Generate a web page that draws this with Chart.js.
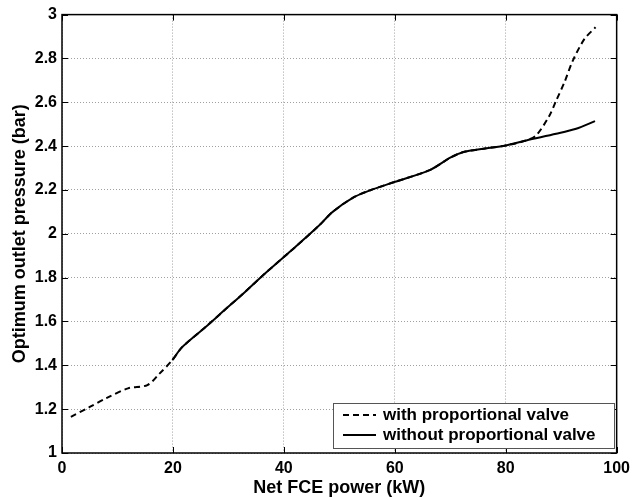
<!DOCTYPE html>
<html>
<head>
<meta charset="utf-8">
<script src="https://cdn.jsdelivr.net/npm/chart.js@4/dist/chart.umd.min.js"></script>
<style>
  html, body { margin: 0; padding: 0; background: #fff; }
  #wrap { width: 636px; height: 500px; }
</style>
</head>
<body>
<div id="wrap"><canvas id="c" width="636" height="500"></canvas></div>
<script>
// values
const xWith = [1.6, 5, 8, 11.9, 15.4, 17.5, 19.9, 21.7, 25.9, 29, 33.0, 36.6, 41.4, 46.2, 48.8, 52.7, 55.7, 59.9, 66.4, 70.0, 72.4, 76.0, 80.0, 83.7, 85.5, 87.9, 89.1, 90.6, 92.1, 94.2, 96.2];
const yWith = [1.165, 1.21, 1.25, 1.295, 1.31, 1.36, 1.424, 1.484, 1.575, 1.645, 1.735, 1.819, 1.925, 2.034, 2.10, 2.168, 2.20, 2.236, 2.292, 2.347, 2.373, 2.388, 2.403, 2.426, 2.449, 2.54, 2.608, 2.692, 2.79, 2.889, 2.942];
const xWithout = [19.9, 21.7, 25.9, 29, 33.0, 36.6, 41.4, 46.2, 48.8, 52.7, 55.7, 59.9, 66.4, 70.0, 72.4, 76.0, 80.0, 83.7, 89.1, 92.7, 96.1];
const yWithout = [1.424, 1.484, 1.575, 1.645, 1.735, 1.819, 1.925, 2.034, 2.10, 2.168, 2.20, 2.236, 2.292, 2.347, 2.373, 2.388, 2.403, 2.426, 2.456, 2.479, 2.514];
const xTicks = [0, 20, 40, 60, 80, 100];
const yTicks = [1, 1.2, 1.4, 1.6, 1.8, 2, 2.2, 2.4, 2.6, 2.8, 3];
const seriesNames = ['with proportional valve', 'without proportional valve'];

const pts = (xs, ys) => xs.map((x, i) => ({ x: x, y: ys[i] }));
const FONT = '"Liberation Sans", Arial, sans-serif';

// frame, inner tick marks on all four sides, and the boxed legend
const framePlugin = {
  id: 'frame',
  afterDatasetsDraw(chart) {
    const { ctx, chartArea: a, scales } = chart;
    ctx.save();
    ctx.strokeStyle = '#000';
    ctx.lineWidth = 1.5;
    ctx.strokeRect(a.left, a.top, a.right - a.left, a.bottom - a.top);
    ctx.lineWidth = 1;
    ctx.beginPath();
    xTicks.forEach(v => {
      const px = Math.round(scales.x.getPixelForValue(v)) + 0.5;
      ctx.moveTo(px, a.bottom); ctx.lineTo(px, a.bottom - 6);
      ctx.moveTo(px, a.top); ctx.lineTo(px, a.top + 6);
    });
    yTicks.forEach(v => {
      const py = Math.round(scales.y.getPixelForValue(v)) + 0.5;
      ctx.moveTo(a.left, py); ctx.lineTo(a.left + 6, py);
      ctx.moveTo(a.right, py); ctx.lineTo(a.right - 6, py);
    });
    ctx.stroke();

    // legend box
    const bx = 333, by = 403, bw = 281, bh = 45;
    ctx.fillStyle = '#fff';
    ctx.fillRect(bx, by, bw, bh);
    ctx.strokeStyle = '#555';
    ctx.lineWidth = 1;
    ctx.strokeRect(bx + 0.5, by + 0.5, bw, bh);
    ctx.strokeStyle = '#000';
    ctx.lineWidth = 2;
    ctx.font = 'bold 17px ' + FONT;
    ctx.fillStyle = '#000';
    ctx.textBaseline = 'middle';
    [[6, 4], []].forEach((dash, i) => {
      const ly = by + 12 + i * 20;
      ctx.setLineDash(dash);
      ctx.beginPath();
      ctx.moveTo(bx + 10, ly); ctx.lineTo(bx + 43, ly);
      ctx.stroke();
      ctx.fillText(seriesNames[i], bx + 50, ly);
    });
    ctx.restore();
  }
};

const fmt = v => String(Math.round(v * 10) / 10);

new Chart(document.getElementById('c'), {
  type: 'scatter',
  data: {
    datasets: [
      {
        label: seriesNames[1],
        data: pts(xWithout, yWithout),
        showLine: true,
        borderColor: '#000',
        borderWidth: 2,
        pointRadius: 0,
        tension: 0.3,
        order: 0
      },
      {
        label: seriesNames[0],
        data: pts(xWith, yWith),
        showLine: true,
        borderColor: '#000',
        borderWidth: 2,
        borderDash: [6, 4],
        pointRadius: 0,
        tension: 0.3,
        order: 1
      }
    ]
  },
  options: {
    responsive: false,
    animation: false,
    layout: { padding: { left: 9, top: 14, right: 15, bottom: 0 } },
    plugins: { legend: { display: false }, tooltip: { enabled: false } },
    scales: {
      x: {
        type: 'linear', min: 0, max: 100,
        afterBuildTicks: s => { s.ticks = xTicks.map(v => ({ value: v })); },
        afterFit: s => { s.height = 47; },
        grid: { color: '#a0a0a0', lineWidth: 1, drawTicks: false },
        border: { display: false, dash: [1, 2] },
        ticks: { color: '#000', padding: 6, callback: fmt, font: { family: FONT, size: 16, weight: 'bold' }, maxRotation: 0 },
        title: { display: true, text: 'Net FCE power (kW)', color: '#000', padding: { top: 0, bottom: 1 },
                 font: { family: FONT, size: 18, weight: 'bold' } }
      },
      y: {
        type: 'linear', min: 1, max: 3,
        afterBuildTicks: s => { s.ticks = yTicks.map(v => ({ value: v })); },
        afterFit: s => { s.width = 53; },
        grid: { color: '#a0a0a0', lineWidth: 1, drawTicks: false },
        border: { display: false, dash: [1, 2] },
        ticks: { color: '#000', padding: 5, callback: fmt, font: { family: FONT, size: 16, weight: 'bold' } },
        title: { display: true, text: 'Optimum outlet pressure (bar)', color: '#000', padding: { top: 0, bottom: 0 },
                 font: { family: FONT, size: 18, weight: 'bold' } }
      }
    }
  },
  plugins: [framePlugin]
});
</script>
</body>
</html>
